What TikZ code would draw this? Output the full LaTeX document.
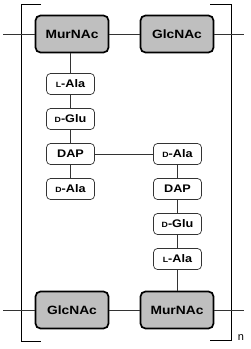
\documentclass[tikz,border=0pt]{standalone}
\usepackage{fontspec}
\setmainfont{Liberation Sans}
\newfontfamily\boxfont{Liberation Sans}[FakeStretch=1.15]
\newcommand{\smc}[1]{{\fontsize{7.6}{8}\selectfont #1}}
\begin{document}
\begin{tikzpicture}[x=1pt,y=-1pt,
  sugar/.style={draw=black,line width=1.7pt,rounded corners=5pt,fill=black!25,minimum width=73pt,minimum height=37pt,inner sep=0pt,font=\boxfont\fontsize{12}{14}\selectfont\bfseries},
  amino/.style={draw=black!80,line width=0.7pt,rounded corners=4pt,fill=white,minimum width=48pt,minimum height=21pt,inner sep=0pt,font=\boxfont\fontsize{11}{13}\selectfont\bfseries},
  link/.style={draw=black!80,line width=0.8pt},
  brk/.style={draw=black,line width=0.9pt}]
\useasboundingbox (0,0) rectangle (250,349);
% brackets
\draw[brk] (41,4) -- (21,4) -- (21,341) -- (41,341);
\draw[brk] (210,4) -- (231,4) -- (231,340) -- (210,340);
\node[font=\fontsize{11}{13}\selectfont,anchor=center] (n) at (241,338) {n};
% sugars
\node[sugar] (m1) at (72,34) {MurNAc};
\node[sugar] (g1) at (177,34) {GlcNAc};
\node[sugar] (g2) at (72,310) {GlcNAc};
\node[sugar] (m2) at (177,310) {MurNAc};
% left stem
\node[amino] (la1) at (70.5,84) {\smc{L}-Ala};
\node[amino] (dg1) at (70.5,119) {\smc{D}-Glu};
\node[amino] (dap1) at (70.5,154) {DAP};
\node[amino] (da1) at (70.5,189) {\smc{D}-Ala};
% right stem
\node[amino] (da2) at (177.5,154) {\smc{D}-Ala};
\node[amino] (dap2) at (177.5,189) {DAP};
\node[amino] (dg2) at (177.5,224) {\smc{D}-Glu};
\node[amino] (la2) at (177.5,259) {\smc{L}-Ala};
% free ends
\coordinate (l1) at (3,34);
\coordinate (r1) at (244,34);
\coordinate (l2) at (3,310);
\coordinate (r2) at (244,310);
\draw[link] (l1) -- (m1.west);
\draw[link] (m1.east) -- (g1.west);
\draw[link] (g1.east) -- (r1);
\draw[link] (l2) -- (g2.west);
\draw[link] (g2.east) -- (m2.west);
\draw[link] (m2.east) -- (r2);
\draw[link] (m1.south -| la1) -- (la1.north);
\draw[link] (la1) -- (dg1);
\draw[link] (dg1) -- (dap1);
\draw[link] (dap1) -- (da1);
\draw[link] (dap1) -- (da2);
\draw[link] (da2) -- (dap2);
\draw[link] (dap2) -- (dg2);
\draw[link] (dg2) -- (la2);
\draw[link] (la2.south) -- (m2.north -| la2);
\end{tikzpicture}
\end{document}
